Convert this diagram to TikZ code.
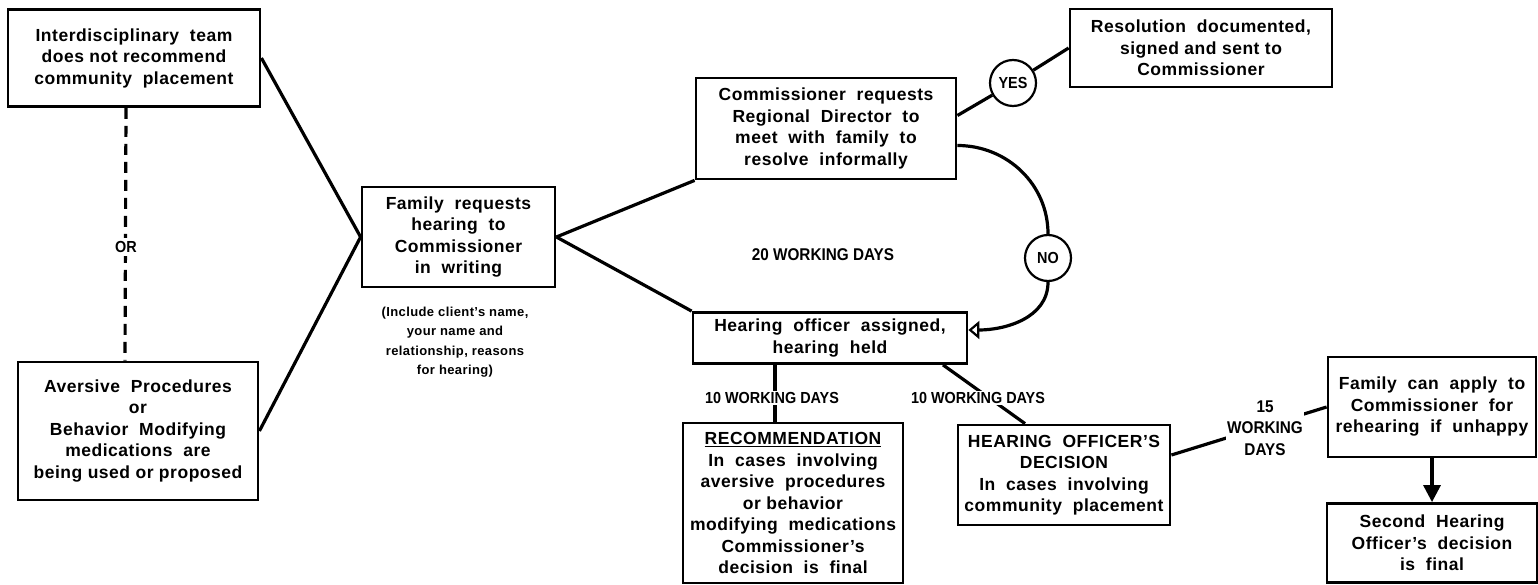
\documentclass[tikz,border=0pt]{standalone}
\usepackage{fontspec}
\setmainfont[LetterSpace=3]{Liberation Sans}
\newfontfamily\narrowfont[FakeStretch=0.9]{Liberation Sans}
\usetikzlibrary{arrows.meta}

\tikzset{
  box/.style={draw, line width=2.8pt, align=center, inner sep=2pt,
    font=\bfseries\fontsize{17.5}{21.5}\selectfont},
  conn/.style={line width=3.2pt},
  days/.style={fill=white, inner sep=1.5pt, align=center,
    font=\narrowfont\bfseries\fontsize{16}{22}\selectfont},
  choice/.style={circle, draw, line width=2.2pt, minimum size=46pt, inner sep=0pt,
    fill=white, font=\narrowfont\bfseries\fontsize{16}{16}\selectfont},
  notetext/.style={align=center, font=\bfseries\fontsize{13}{19.5}\selectfont}
}

\begin{document}
\begin{tikzpicture}
\useasboundingbox (0,0) rectangle (1538pt,-585pt);
\begin{scope}[x=1pt,y=1pt]
  % boxes
  \node[box, minimum width=252pt, minimum height=97pt] (team) at (134,-58)
    {Interdisciplinary\ \ team\\does\ not\ recommend\\community\ \ placement};
  \node[box, minimum width=240pt, minimum height=138pt] (aversive) at (138,-431)
    {Aversive\ \ Procedures\\or\\Behavior\ \ Modifying\\medications\ \ are\\being used or proposed};
  \node[box, minimum width=193pt, minimum height=100pt] (family) at (458.5,-237)
    {Family\ \ requests\\hearing\ \ to\\Commissioner\\in\ \ writing};
  \node[notetext] (note) at (455,-342)
    {(Include client's name,\\your name and\\relationship,\ reasons\\for hearing)};
  \node[box, minimum width=260pt, minimum height=101pt] (regional) at (826,-128.5)
    {Commissioner\ \ requests\\Regional\ \ Director\ \ to\\meet\ \ with\ \ family\ \ to\\resolve\ \ informally};
  \node[box, minimum width=262pt, minimum height=78pt] (resolution) at (1201,-48)
    {Resolution\ \ documented,\\signed and sent to\\Commissioner};
  \node[box, minimum width=274pt, minimum height=51pt] (hearing) at (830,-338)
    {Hearing\ \ officer\ \ assigned,\\hearing\ \ held};
  \node[box, minimum width=220pt, minimum height=160pt] (rec) at (793,-503)
    {\underline{RECOMMENDATION}\\In\ \ cases\ \ involving\\aversive\ \ procedures\\or behavior\\modifying\ \ medications\\Commissioner's\\decision\ \ is\ \ final};
  \node[box, minimum width=212pt, minimum height=100pt] (decision) at (1064,-475)
    {HEARING\ \ OFFICER'S\\DECISION\\In\ \ cases\ \ involving\\community\ \ placement};
  \node[box, minimum width=208pt, minimum height=100pt] (rehear) at (1432,-407)
    {Family\ \ can\ \ apply\ \ to\\Commissioner\ \ for\\rehearing\ \ if\ \ unhappy};
  \node[box, minimum width=210pt, minimum height=79pt] (second) at (1432,-543)
    {Second\ \ Hearing\\Officer's\ \ decision\\is\ \ final};

  % yes / no choices
  \node[choice] (yes) at (1013,-83) {YES};
  \node[choice] (no) at (1048,-258) {NO};

  % connectors
  \draw[conn, dash pattern=on 11pt off 7pt]
    ([xshift=-8pt]team.south) -- ([xshift=-13pt]aversive.north);
  \draw[conn] (team.east) -- (family.west);
  \draw[conn] (aversive.east) -- (family.west);
  \draw[conn] (family.east) -- (regional.south west);
  \draw[conn] (family.east) -- (hearing.north west);
  \draw[conn] ([yshift=13pt]regional.east) -- (yes);
  \draw[conn] (yes) -- (resolution.west);
  \draw[conn] ([yshift=-17pt]regional.east) to[out=0, in=90] (no.north);
  \draw[conn, -{Triangle[open, length=11pt, width=18pt, line width=2.2pt]}]
    (no.south) to[out=-90, in=0] ([yshift=8pt]hearing.east);
  \draw[conn] ([xshift=-55pt]hearing.south) -- ([xshift=-18pt]rec.north);
  \draw[conn] ([xshift=113pt]hearing.south) -- ([xshift=-39pt]decision.north);
  \draw[conn] ([yshift=20pt]decision.east) -- (rehear.west);
  \draw[conn, -{Triangle[length=17pt, width=17pt]}] (rehear.south) -- (second.north);

  % labels on the connectors
  \node[days, inner sep=3pt, font=\narrowfont\bfseries\fontsize{16}{16}\selectfont]
    (orlabel) at (126,-247) {OR};
  \node[days, fill=none, font=\narrowfont\bfseries\fontsize{17}{17}\selectfont]
    (days20) at (823,-255) {20 WORKING DAYS};
  \node[days] (days10a) at (772,-398) {10 WORKING DAYS};
  \node[days] (days10b) at (978,-398) {10 WORKING DAYS};
  \node[days, font=\narrowfont\bfseries\fontsize{17}{21.5}\selectfont] (days15) at (1265,-428)
    {15\\WORKING\\DAYS};
\end{scope}
\end{tikzpicture}
\end{document}
